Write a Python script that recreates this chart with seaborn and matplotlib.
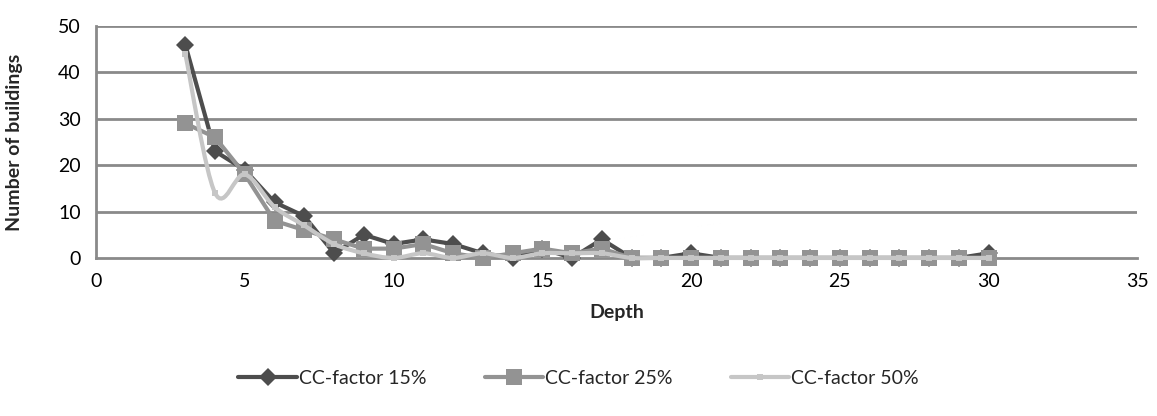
import numpy as np
import pandas as pd
import seaborn as sns
import matplotlib.pyplot as plt
from matplotlib.path import Path
from matplotlib.patches import PathPatch
from matplotlib.lines import Line2D

# Depth values and building counts per CC-factor
depth = list(range(3, 31))
cc15 = [46, 23, 19, 12, 9, 1, 5, 3, 4, 3, 1, 0, 2, 0, 4, 0, 0, 1, 0, 0, 0, 0, 0, 0, 0, 0, 0, 1]
cc25 = [29, 26, 18, 8, 6, 4, 2, 2, 3, 1, 0, 1, 2, 1, 2, 0, 0, 0, 0, 0, 0, 0, 0, 0, 0, 0, 0, 0]
cc50 = [44, 14, 18, 11, 7, 3, 1, 0, 1, 0, 1, 0, 1, 1, 1, 0, 0, 0, 0, 0, 0, 0, 0, 0, 0, 0, 0, 0]
series_names = ["CC-factor 15%", "CC-factor 25%", "CC-factor 50%"]

x_ticks = [0, 5, 10, 15, 20, 25, 30, 35]
y_ticks = [0, 10, 20, 30, 40, 50]

df = pd.DataFrame({"Depth": depth, series_names[0]: cc15,
                   series_names[1]: cc25, series_names[2]: cc50})
long = df.melt(id_vars="Depth", var_name="series", value_name="count")

sns.set_style("white")
plt.rcParams["font.family"] = ["Lato", "DejaVu Sans"]

c_dark, c_mid, c_light = "#4d4d4d", "#939393", "#c6c6c6"
grid_c = "#8a8a8a"
fs = 14

fig = plt.figure(figsize=(11.57, 4.16), dpi=100)
ax = fig.add_axes([0.083, 0.38, 0.9, 0.5575])

for yv in y_ticks[1:]:
    ax.axhline(yv, color=grid_c, lw=2.0, zorder=0)


def smooth_path(xs, ys, t=1 / 6):
    # Bezier path through the points (Catmull-Rom style tangents)
    xs, ys = np.asarray(xs, float), np.asarray(ys, float)
    n = len(xs)
    verts = [(xs[0], ys[0])]
    codes = [Path.MOVETO]
    for i in range(n - 1):
        x0, y0 = (xs[i - 1], ys[i - 1]) if i > 0 else (xs[i], ys[i])
        x3, y3 = (xs[i + 2], ys[i + 2]) if i + 2 < n else (xs[i + 1], ys[i + 1])
        c1 = (xs[i] + (xs[i + 1] - x0) * t, ys[i] + (ys[i + 1] - y0) * t)
        c2 = (xs[i + 1] - (x3 - xs[i]) * t, ys[i + 1] - (y3 - ys[i]) * t)
        verts += [c1, c2, (xs[i + 1], ys[i + 1])]
        codes += [Path.CURVE4] * 3
    return Path(verts, codes)


# CC-factor 15% and 25%: straight segments with markers
sns.lineplot(data=long[long.series == series_names[0]], x="Depth", y="count",
             ax=ax, color=c_dark, lw=3.0, marker="D", markersize=9.5,
             markeredgewidth=0, zorder=3, legend=False, clip_on=False)
sns.lineplot(data=long[long.series == series_names[1]], x="Depth", y="count",
             ax=ax, color=c_mid, lw=3.0, marker="s", markersize=12,
             markeredgewidth=0, zorder=4, legend=False, clip_on=False)

# CC-factor 50%: smoothed line with small markers
ax.add_patch(PathPatch(smooth_path(depth, cc50), fill=False, ec=c_light,
                       lw=3.0, zorder=5, capstyle="round", clip_on=False))
sns.scatterplot(x=depth, y=cc50, ax=ax, marker="s", s=22, color=c_light,
                edgecolor=c_light, linewidth=0, zorder=6, legend=False,
                clip_on=False)

ax.set_xlim(0, 35)
ax.set_ylim(0, 50)
ax.set_xticks(x_ticks)
ax.set_yticks(y_ticks)
ax.tick_params(axis="both", labelsize=fs, colors=grid_c, labelcolor="black",
               direction="out", length=6, width=1.5, pad=5)
for s in ["top", "right"]:
    ax.spines[s].set_visible(False)
for s in ["left", "bottom"]:
    ax.spines[s].set_color(grid_c)
    ax.spines[s].set_linewidth(2.0)
    ax.spines[s].set_zorder(1)

ax.set_xlabel("Depth", fontsize=fs, fontweight="bold", labelpad=10)
ax.set_ylabel("Number of buildings", fontsize=fs, fontweight="bold", labelpad=12)
ax.yaxis.set_label_coords(-0.07, 0.5)

handles = [
    Line2D([], [], color=c_dark, lw=3, marker="D", markersize=9.5, markeredgewidth=0),
    Line2D([], [], color=c_mid, lw=3, marker="s", markersize=12, markeredgewidth=0),
    Line2D([], [], color=c_light, lw=3, marker="s", markersize=5, markeredgewidth=0),
]
fig.legend(handles, series_names, loc="center", bbox_to_anchor=(0.5, 0.09),
           ncol=3, frameon=False, fontsize=fs, handlelength=3.0,
           handletextpad=0.1, columnspacing=3.0)

fig.savefig("out.png", dpi=100)
